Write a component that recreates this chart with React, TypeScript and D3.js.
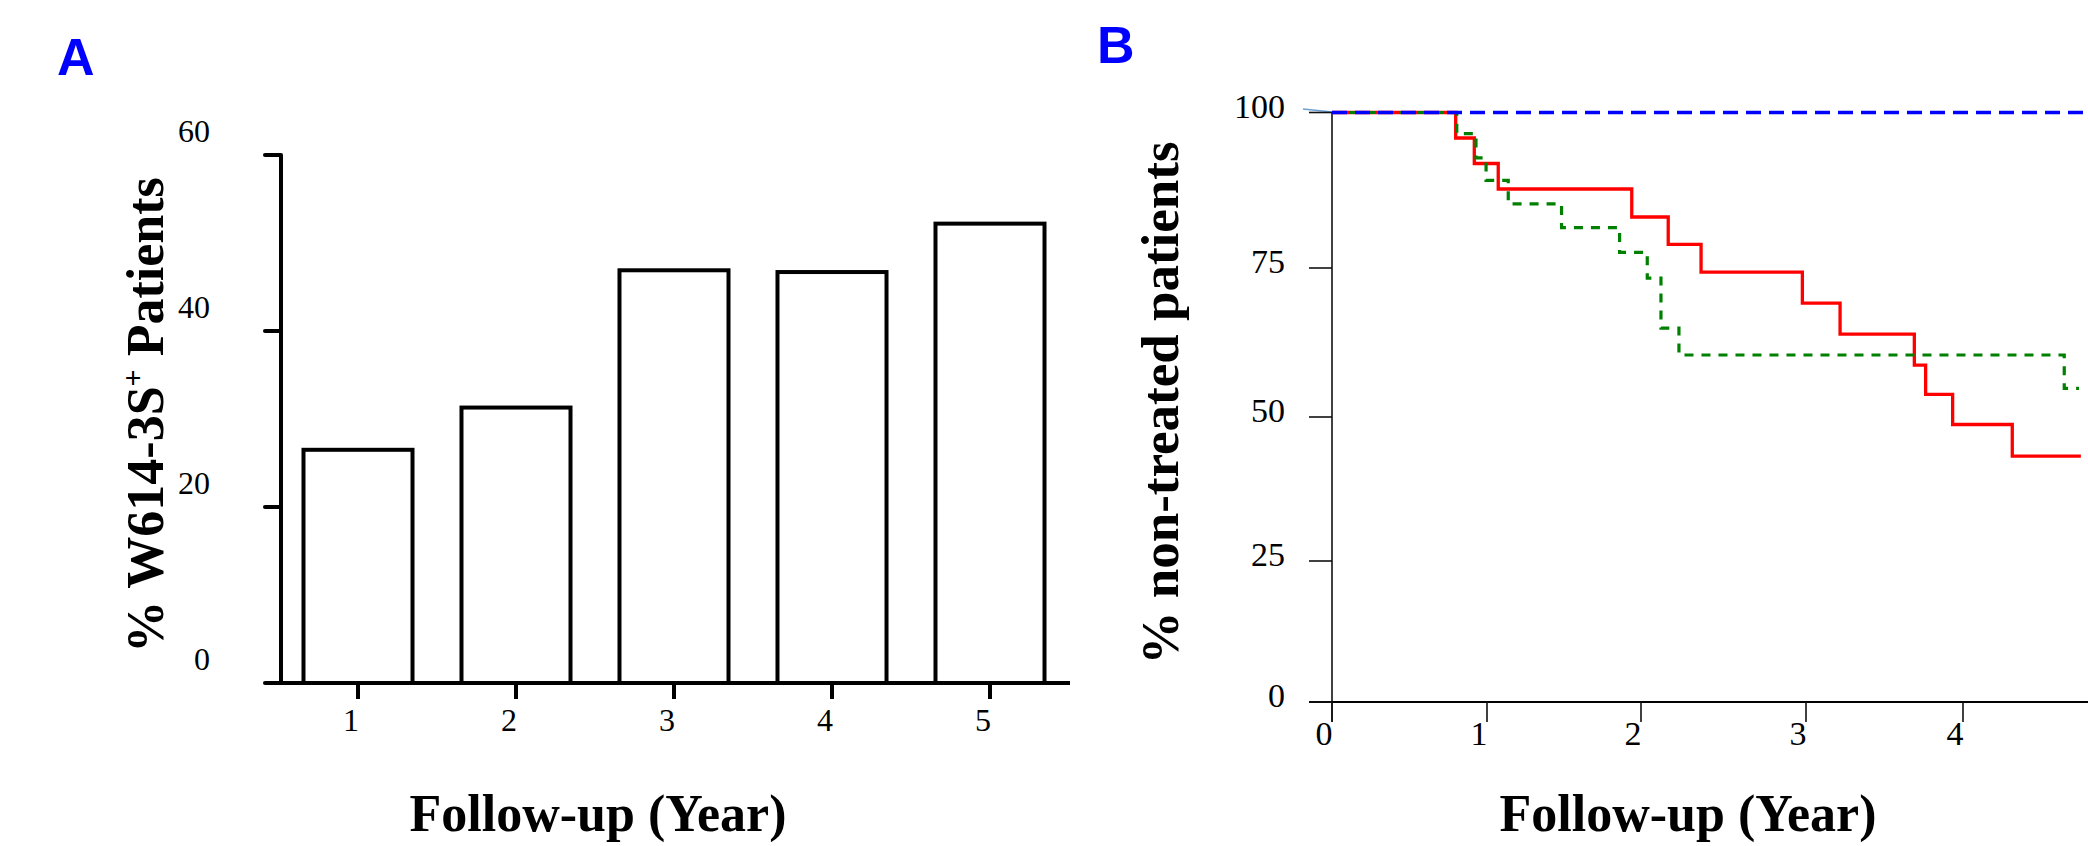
import React from "react";
import * as d3 from "d3";

// Panel A data
const barYears = ["1", "2", "3", "4", "5"];
const barValues = [26.5, 31.3, 46.9, 46.7, 52.2];
const barTicks = [0, 20, 40, 60];

// Panel B data (Kaplan-Meier style step curves)
const kmTicksY = [0, 25, 50, 75, 100];
const kmTicksX = [0, 1, 2, 3, 4, 5];
const redTimes = [0, 0.798, 0.918, 1.073, 1.94, 2.165, 2.364, 2.978, 3.217, 3.69, 3.762, 3.934, 4.347, 4.83];
const redSurv = [100, 95.9, 91.8, 87.7, 83.2, 78.8, 74.3, 69.1, 63.9, 58.7, 53.8, 48.7, 43.2, 43.2];
const greenTimes = [0, 0.805, 0.929, 0.994, 1.138, 1.484, 1.861, 2.038, 2.121, 2.23, 4.713, 4.817];
const greenSurv = [100, 96.6, 92.7, 89.1, 85.3, 81.5, 77.5, 73.3, 64.9, 60.4, 54.8, 54.8];
const blueTimes = [0, 5];
const blueSurv = [100, 100];

const SERIF = "'Liberation Serif', 'Times New Roman', serif";
const SANS = "'Liberation Sans', Arial, sans-serif";

export default function App() {
  // Panel A scales
  const xA = d3.scaleBand<string>().domain(barYears).range([279, 1069]).paddingInner(0.31).paddingOuter(0.155);
  const yA = d3.scaleLinear().domain([0, 60]).range([683, 155]);

  // Panel B scales (original figure has uneven tick spacing)
  const xB = d3.scaleLinear().domain(kmTicksX).range([1332, 1487, 1641, 1806, 1963, 2105]);
  const yB = d3.scaleLinear().domain(kmTicksY).range([702, 561, 417, 268, 112.5]);

  const mkLine = (times: number[]) =>
    d3
      .line<number>()
      .x((_, i) => xB(times[i]))
      .y((d) => yB(d))
      .curve(d3.curveStepAfter);

  const redPath = mkLine(redTimes)(redSurv) || "";
  const greenPath = mkLine(greenTimes)(greenSurv) || "";
  const bluePath = mkLine(blueTimes)(blueSurv) || "";

  const axA = yA.range()[0];
  const xAxisEndA = 1070;
  const y0B = yB(0);
  const x0B = xB(0);

  return (
    <svg
      width={2088}
      height={846}
      style={{ position: "absolute", left: 0, top: 0, background: "#fff" }}
    >
      <rect x={0} y={0} width={2088} height={846} fill="#fff" />
      {/* Panel letters */}
      <text x={57} y={75} fontFamily={SANS} fontWeight="bold" fontSize={52} fill="#0000ff">
        A
      </text>
      <text x={1097} y={63} fontFamily={SANS} fontWeight="bold" fontSize={52} fill="#0000ff">
        B
      </text>

      {/* ---------- Panel A ---------- */}
      {barValues.map((v, i) => (
        <rect
          key={"bar" + i}
          x={xA(barYears[i])!}
          y={yA(v)}
          width={xA.bandwidth()}
          height={axA - yA(v)}
          fill="#fff"
          stroke="#000"
          strokeWidth={4}
        />
      ))}
      {/* y axis */}
      <line x1={281} x2={281} y1={yA(60)} y2={axA + 2} stroke="#000" strokeWidth={4} />
      {barTicks.map((t) => (
        <g key={"ta" + t}>
          <line x1={265} x2={281} y1={yA(t)} y2={yA(t)} stroke="#000" strokeWidth={4} strokeLinecap="round" />
          <text x={210} y={yA(t) - 13} textAnchor="end" fontFamily={SERIF} fontSize={32} fill="#000">
            {t}
          </text>
        </g>
      ))}
      {/* x axis */}
      <line x1={279} x2={xAxisEndA} y1={axA} y2={axA} stroke="#000" strokeWidth={4} />
      {barYears.map((c) => {
        const cx = xA(c)! + xA.bandwidth() / 2;
        return (
          <g key={"xa" + c}>
            <line x1={cx} x2={cx} y1={axA} y2={axA + 16} stroke="#000" strokeWidth={4} />
            <text x={cx - 7} y={731} textAnchor="middle" fontFamily={SERIF} fontSize={32} fill="#000">
              {c}
            </text>
          </g>
        );
      })}
      <text
        transform="translate(163,415) rotate(-90)"
        textAnchor="middle"
        fontFamily={SERIF}
        fontWeight="bold"
        fontSize={52}
        fill="#000"
      >
        % W614-3S
        <tspan dy={-20} fontSize={30}>+</tspan>
        <tspan dy={20}> Patients</tspan>
      </text>
      <text x={598} y={831} textAnchor="middle" fontFamily={SERIF} fontWeight="bold" fontSize={52} fill="#000">
        Follow-up (Year)
      </text>

      {/* ---------- Panel B ---------- */}
      {/* axes */}
      <line x1={1303} x2={1332} y1={109} y2={112} stroke="#6a9fd8" strokeWidth={1.5} />
      <line x1={x0B} x2={x0B} y1={yB(100)} y2={y0B + 20} stroke="#111" strokeWidth={1.6} />
      <line x1={1309} x2={2110} y1={y0B} y2={y0B} stroke="#000" strokeWidth={2.2} />
      {kmTicksY.map((t) => (
        <g key={"tb" + t}>
          <line x1={1309} x2={x0B} y1={yB(t)} y2={yB(t)} stroke="#111" strokeWidth={1.6} />
          <text x={1285} y={yB(t) + 5} textAnchor="end" fontFamily={SERIF} fontSize={34} fill="#000">
            {t}
          </text>
        </g>
      ))}
      {kmTicksX.map((t) => (
        <g key={"xb" + t}>
          <line x1={xB(t)} x2={xB(t)} y1={y0B} y2={y0B + 20} stroke="#111" strokeWidth={1.6} />
          <text x={xB(t) - 8} y={745} textAnchor="middle" fontFamily={SERIF} fontSize={34} fill="#000">
            {t}
          </text>
        </g>
      ))}
      {/* curves */}
      <path d={redPath} fill="none" stroke="#ff0000" strokeWidth={3.3} />
      <path d={greenPath} fill="none" stroke="#008000" strokeWidth={3.2} strokeDasharray="9 8" />
      <path d={bluePath} fill="none" stroke="#0000ff" strokeWidth={3.3} strokeDasharray="15 8" />

      <text
        transform="translate(1178,403) rotate(-90)"
        textAnchor="middle"
        fontFamily={SERIF}
        fontWeight="bold"
        fontSize={53}
        fill="#000"
      >
        % non-treated patients
      </text>
      <text x={1688} y={831} textAnchor="middle" fontFamily={SERIF} fontWeight="bold" fontSize={52} fill="#000">
        Follow-up (Year)
      </text>
    </svg>
  );
}
